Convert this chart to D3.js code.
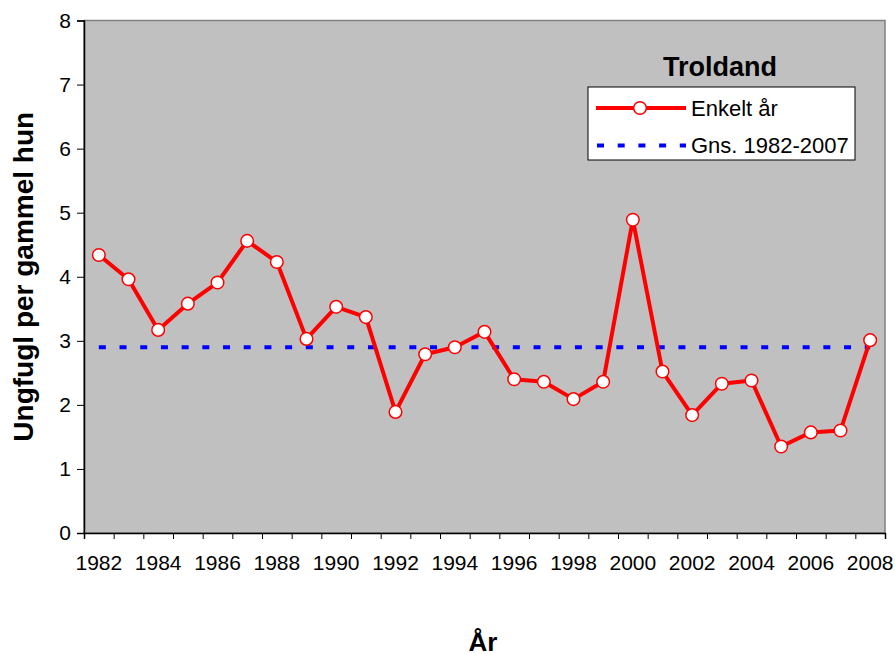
<!DOCTYPE html>
<html>
<head>
<meta charset="utf-8">
<script src="https://cdn.jsdelivr.net/npm/d3@7"></script>
<style>
  body { margin: 0; background: #fff; }
  svg { display: block; font-family: "Liberation Sans", Arial, sans-serif; }
</style>
</head>
<body>
<div id="chart"></div>
<script>
// données
var years = d3.range(1982, 2009);
var enkeltAar = [4.34, 3.96, 3.17, 3.58, 3.91, 4.56, 4.23, 3.03, 3.53, 3.37,
                 1.89, 2.79, 2.90, 3.14, 2.40, 2.36, 2.09, 2.36, 4.89, 2.52,
                 1.84, 2.33, 2.38, 1.35, 1.57, 1.60, 3.01];
var gnsValue = 2.90;
var yTicks = [0, 1, 2, 3, 4, 5, 6, 7, 8];
var xLabels = years.filter(function (d) { return d % 2 === 0; });

var W = 895, H = 654;
var margin = {top: 20.5, right: 10, bottom: 121, left: 84};
var width = W - margin.left - margin.right;
var height = H - margin.top - margin.bottom;

var svg = d3.select("#chart").append("svg")
    .attr("width", W).attr("height", H);

var g = svg.append("g")
    .attr("transform", "translate(" + margin.left + "," + margin.top + ")");

var x = d3.scaleBand().domain(years).range([0, width]).padding(0);
var y = d3.scaleLinear().domain([0, 8]).range([height, 0]);
var cx = function (yr) { return x(yr) + x.bandwidth() / 2; };

// fond de la zone de tracé
g.append("rect")
    .attr("width", width).attr("height", height)
    .attr("fill", "#c0c0c0")
    .attr("stroke", "#808080").attr("stroke-width", 1.5);

// axe des ordonnées
var yAxis = g.append("g")
    .call(d3.axisLeft(y).tickValues(yTicks).tickSize(7).tickPadding(6));
yAxis.select(".domain").attr("stroke", "#000").attr("stroke-width", 1.5);
yAxis.selectAll(".tick line").attr("stroke", "#000");
yAxis.selectAll("text").attr("font-size", 21).attr("fill", "#000")
    .attr("font-family", "Liberation Sans, Arial, sans-serif");

// axe des abscisses : graduations entre les catégories
var xb = d3.scaleLinear().domain([0, years.length]).range([0, width]);
var xTickAxis = g.append("g")
    .attr("transform", "translate(0," + height + ")")
    .call(d3.axisBottom(xb).ticks(years.length).tickValues(d3.range(0, years.length + 1))
        .tickSize(6).tickFormat(""));
xTickAxis.select(".domain").attr("stroke", "#000").attr("stroke-width", 1.5);
xTickAxis.selectAll(".tick line").attr("stroke", "#000");

var xLabAxis = g.append("g")
    .attr("transform", "translate(0," + height + ")")
    .call(d3.axisBottom(x).tickValues(xLabels).tickSize(0).tickPadding(22));
xLabAxis.select(".domain").remove();
xLabAxis.selectAll("text").attr("font-size", 21).attr("fill", "#000")
    .attr("font-family", "Liberation Sans, Arial, sans-serif");

// moyenne 1982-2007
g.append("line")
    .attr("x1", cx(years[0])).attr("x2", cx(years[years.length - 1]))
    .attr("y1", y(gnsValue)).attr("y2", y(gnsValue))
    .attr("stroke", "#0000ff").attr("stroke-width", 4)
    .attr("stroke-dasharray", "7,13.7");

// série annuelle
var line = d3.line()
    .x(function (d, i) { return cx(years[i]); })
    .y(function (d) { return y(d); });

g.append("path")
    .datum(enkeltAar)
    .attr("d", line)
    .attr("fill", "none")
    .attr("stroke", "#ff0000").attr("stroke-width", 4)
    .attr("stroke-linejoin", "round");

g.selectAll("circle.pt")
    .data(enkeltAar)
    .enter().append("circle")
    .attr("class", "pt")
    .attr("cx", function (d, i) { return cx(years[i]); })
    .attr("cy", function (d) { return y(d); })
    .attr("r", 6.3)
    .attr("fill", "#fff")
    .attr("stroke", "#ff0000").attr("stroke-width", 1.5);

// titre et légende
svg.append("text")
    .attr("x", 720).attr("y", 76)
    .attr("text-anchor", "middle")
    .attr("font-size", 27).attr("font-weight", "bold")
    .text("Troldand");

var leg = svg.append("g").attr("transform", "translate(588,87)");
leg.append("rect")
    .attr("width", 267).attr("height", 73)
    .attr("fill", "#fff").attr("stroke", "#000").attr("stroke-width", 1);

leg.append("line")
    .attr("x1", 8).attr("x2", 98).attr("y1", 21).attr("y2", 21)
    .attr("stroke", "#ff0000").attr("stroke-width", 4);
leg.append("circle")
    .attr("cx", 52).attr("cy", 21).attr("r", 6.3)
    .attr("fill", "#fff").attr("stroke", "#ff0000").attr("stroke-width", 1.5);
leg.append("text")
    .attr("x", 103).attr("y", 28.5)
    .attr("font-size", 22)
    .text("Enkelt år");

leg.append("line")
    .attr("x1", 9).attr("x2", 98).attr("y1", 58.5).attr("y2", 58.5)
    .attr("stroke", "#0000ff").attr("stroke-width", 4)
    .attr("stroke-dasharray", "7,13.7");
leg.append("text")
    .attr("x", 103).attr("y", 66)
    .attr("font-size", 22)
    .text("Gns. 1982-2007");

// titres des axes
svg.append("text")
    .attr("transform", "translate(33," + (margin.top + height / 2) + ") rotate(-90)")
    .attr("text-anchor", "middle")
    .attr("font-size", 28).attr("font-weight", "bold")
    .text("Ungfugl per gammel hun");

svg.append("text")
    .attr("x", 483).attr("y", 651)
    .attr("text-anchor", "middle")
    .attr("font-size", 26).attr("font-weight", "bold")
    .text("År");
</script>
</body>
</html>
